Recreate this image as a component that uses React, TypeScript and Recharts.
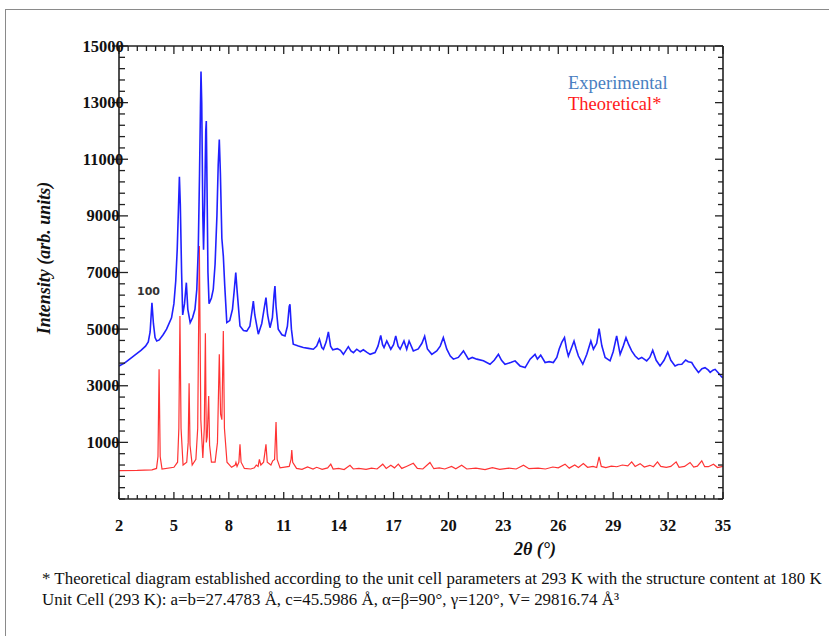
import { LineChart, Line, XAxis, YAxis } from "recharts";

// experimental pattern (blue)
const expTheta = [
  2.0, 2.3, 2.6, 2.9, 3.2, 3.45, 3.6, 3.7, 3.8, 3.88, 3.97, 4.06, 4.2, 4.41, 4.6, 4.87,
  5.0, 5.1, 5.18, 5.25, 5.3, 5.35, 5.42, 5.48, 5.58, 5.68, 5.76, 5.89, 6.02, 6.15, 6.25,
  6.33, 6.4, 6.45, 6.48, 6.52, 6.58, 6.62, 6.68, 6.74, 6.77, 6.81, 6.86, 6.92, 7.05, 7.15,
  7.25, 7.35, 7.42, 7.48, 7.54, 7.62, 7.7, 7.78, 7.89, 8.05, 8.2, 8.3, 8.38, 8.46, 8.61,
  8.8, 8.98, 9.15, 9.28, 9.34, 9.42, 9.61, 9.8, 9.95, 10.03, 10.12, 10.25, 10.38, 10.47,
  10.52, 10.58, 10.7, 10.9, 11.07, 11.2, 11.3, 11.34, 11.42, 11.52, 11.8, 12.07, 12.35,
  12.62, 12.8, 12.95, 13.08, 13.17, 13.32, 13.44, 13.56, 13.68, 13.93, 14.1, 14.26, 14.4,
  14.53, 14.67, 14.81, 14.99, 15.18, 15.35, 15.55, 15.72, 15.99, 16.15, 16.3, 16.4, 16.48,
  16.63, 16.85, 17.0, 17.12, 17.25, 17.36, 17.57, 17.72, 17.85, 18.08, 18.35, 18.55, 18.7,
  18.85, 19.09, 19.36, 19.55, 19.72, 19.91, 20.1, 20.27, 20.54, 20.82, 21.09, 21.3, 21.55,
  21.91, 22.27, 22.5, 22.73, 22.9, 23.09, 23.4, 23.64, 23.91, 24.19, 24.46, 24.73, 24.86,
  25.04, 25.28, 25.5, 25.73, 25.92, 26.05, 26.19, 26.34, 26.45, 26.55, 26.7, 26.86, 26.98,
  27.1, 27.34, 27.56, 27.78, 27.92, 28.1, 28.23, 28.38, 28.56, 28.83, 29.0, 29.19, 29.38,
  29.55, 29.7, 29.85, 30.01, 30.2, 30.38, 30.56, 30.83, 31.0, 31.16, 31.35, 31.56, 31.78,
  31.98, 32.15, 32.38, 32.55, 32.75, 32.96, 33.1, 33.29, 33.45, 33.66, 33.85, 34.02, 34.2,
  34.3, 34.45, 34.57, 34.75, 34.93, 35.0,
];
const expIntensity = [
  3700, 3800, 3950, 4100, 4250, 4400, 4550, 4900, 5930, 5200, 4700, 4580, 4620, 4800, 5000, 5400,
  5900, 6700, 7800, 9300, 10380, 9400, 7000, 5500, 5900, 6640, 5700, 5230, 5400, 5700, 6400,
  7800, 10500, 12800, 14100, 13000, 9000, 7800, 9500, 12000, 12350, 10000, 7000, 5900, 6100, 6400,
  7300, 9000, 10800, 11700, 10500, 8200, 7580, 6500, 5230, 5300, 5700, 6400, 7000, 6300, 5110,
  4950, 4930, 5100, 5700, 5990, 5500, 4820, 5200, 5800, 6110, 5500, 5050, 5400, 6200,
  6520, 5800, 5000, 4800, 4760, 5100, 5800, 5880, 5000, 4470, 4400, 4350, 4320,
  4290, 4400, 4640, 4350, 4290, 4550, 4900, 4400, 4270, 4310, 4250, 4110, 4250,
  4380, 4230, 4170, 4290, 4200, 4270, 4180, 4110, 4170, 4400, 4780, 4450, 4350,
  4580, 4290, 4450, 4760, 4400, 4290, 4580, 4290, 4580, 4230, 4300, 4500, 4750,
  4300, 4110, 4230, 4400, 4700, 4290, 4050, 3940, 4000, 4230, 3940, 4000, 3940,
  3880, 3760, 3900, 4110, 3900, 3760, 3820, 3880, 3700, 3640, 3940, 4110, 3940,
  4080, 3820, 3850, 3820, 4000, 4300, 4530, 4700, 4300, 4050, 4300, 4580, 4300,
  4050, 3760, 4110, 4580, 4290, 4500, 5020, 4410, 4000, 3880, 4200, 4760, 4110,
  4400, 4700, 4450, 4230, 4050, 3940, 4000, 3880, 4000, 4250, 3900, 3700, 3900,
  4190, 3900, 3700, 3750, 3760, 3910, 3850, 3820, 3650, 3470, 3600, 3640, 3550,
  3470, 3550, 3580, 3450, 3310, 3280,
];

// theoretical pattern (red)
const theoTheta = [
  2.0, 3.0, 3.8, 4.05, 4.13, 4.19, 4.25, 4.35, 5.0, 5.2, 5.27, 5.33, 5.39, 5.5, 5.7, 5.78,
  5.83, 5.88, 6.0, 6.2, 6.3, 6.39, 6.47, 6.58, 6.66, 6.72, 6.77, 6.82, 6.9, 6.95, 7.05,
  7.25, 7.38, 7.48, 7.55, 7.62, 7.7, 7.76, 7.9, 8.15, 8.35, 8.39, 8.45, 8.55, 8.61, 8.67,
  8.85, 9.2, 9.4, 9.5, 9.6, 9.67, 9.75, 9.9, 10.03, 10.1, 10.3, 10.4, 10.5, 10.58, 10.64,
  10.8, 11.3, 11.4, 11.44, 11.49, 11.7, 12.0, 12.3, 12.6, 12.8, 13.1, 13.4, 13.57, 13.7,
  14.0, 14.3, 14.62, 14.8, 15.1, 15.5, 15.8, 16.1, 16.41, 16.6, 16.85, 17.05, 17.26, 17.45,
  17.7, 18.08, 18.3, 18.6, 18.99, 19.2, 19.5, 19.8, 20.17, 20.4, 20.72, 21.0, 21.5, 22.0,
  22.4, 22.8, 23.3, 23.7, 24.1, 24.4, 24.9, 25.3, 25.7, 26.0, 26.37, 26.6, 26.9, 27.1,
  27.37, 27.6, 27.9, 28.1, 28.23, 28.35, 28.6, 28.9, 29.2, 29.5, 29.8, 30.01, 30.2, 30.47,
  30.7, 31.0, 31.2, 31.42, 31.6, 31.9, 32.15, 32.44, 32.6, 32.9, 33.2, 33.4, 33.6, 33.84,
  34.0, 34.2, 34.48, 34.7, 35.0,
];
const theoIntensity = [
  0, 10, 30, 80, 500, 3580, 500, 60, 120, 300, 1500, 5460, 1500, 200, 300, 1000,
  3090, 900, 200, 400, 1500, 7940, 1800, 450, 1500, 4850, 1000, 1200, 2640, 900, 300,
  300, 1000, 4110, 2000, 1800, 4930, 1500, 300, 120, 200, 290, 150, 300, 930, 300,
  80, 60, 100, 200, 150, 400, 200, 300, 930, 300, 200, 350, 400, 1720, 400,
  100, 150, 400, 730, 300, 80, 50, 130, 60, 120, 50, 100, 230, 60,
  80, 40, 190, 60, 80, 50, 90, 60, 230, 80, 190, 100, 230, 80,
  150, 260, 80, 60, 290, 70, 100, 60, 150, 70, 190, 60, 90, 40,
  110, 50, 90, 60, 190, 70, 90, 60, 130, 100, 230, 90, 200, 110,
  250, 120, 150, 110, 490, 150, 110, 160, 140, 200, 170, 310, 150, 250,
  130, 190, 140, 310, 150, 120, 150, 310, 120, 150, 290, 130, 160, 350,
  140, 140, 230, 110, 150,
];

const yLabels = [1000, 3000, 5000, 7000, 9000, 11000, 13000, 15000];
const xLabels = [2, 5, 8, 11, 14, 17, 20, 23, 26, 29, 32, 35];

const yTicks = Array.from({ length: 41 }, (_, i) => -1000 + i * 400);
const xTicks = Array.from({ length: 67 }, (_, i) => 2 + i * 0.5);

const expData = expTheta.map((t, i) => ({ t, v: expIntensity[i] }));
const theoData = theoTheta.map((t, i) => ({ t, v: theoIntensity[i] }));

const serif = '"Liberation Serif", "Times New Roman", serif';

const LeftTick = ({ x, y, payload }: any) => {
  const major = yLabels.includes(payload.value);
  return (
    <g>
      <line x1={x - (major ? 7 : 0)} x2={x + (major ? 9 : 6)} y1={y} y2={y} stroke="#222" strokeWidth={1.3} />
      {major && (
        <text x={x - 16} y={y} textAnchor="middle" dominantBaseline="central"
          fontFamily={serif} fontWeight="bold" fontSize={16.5} fill="#111">
          {payload.value}
        </text>
      )}
    </g>
  );
};

const RightTick = ({ x, y, payload }: any) => {
  const major = yLabels.includes(payload.value);
  return <line x1={x} x2={x - (major ? 8 : 5)} y1={y} y2={y} stroke="#222" strokeWidth={1.3} />;
};

const BottomTick = ({ x, y, payload }: any) => {
  const major = xLabels.includes(payload.value);
  return (
    <g>
      <line x1={x} x2={x} y1={y} y2={y - (major ? 7 : 4)} stroke="#222" strokeWidth={1.3} />
      {major && (
        <text x={x} y={y + 26} textAnchor="middle" dominantBaseline="central"
          fontFamily={serif} fontWeight="bold" fontSize={16.5} fill="#111">
          {payload.value}
        </text>
      )}
    </g>
  );
};

const TopTick = ({ x, y, payload }: any) => {
  const major = xLabels.includes(payload.value);
  return <line x1={x} x2={x} y1={y} y2={y + (major ? 8 : 5)} stroke="#222" strokeWidth={1.3} />;
};

const abs = (s: any) => ({ position: "absolute" as const, whiteSpace: "nowrap" as const, ...s });

export default function App() {
  return (
    <div style={{ position: "absolute", left: 0, top: 0, width: 829, height: 636, overflow: "hidden", background: "#fff" }}>
      <div style={abs({ left: 5, top: 9, width: 840, height: 650, border: "1.5px solid #8a8a8a" })} />
      <div style={abs({ left: 0, top: 0 })}>
        <LineChart width={829} height={636} data={expData} margin={{ top: 36, right: 96, bottom: 107, left: 59 }}>
          <XAxis dataKey="t" type="number" domain={[2, 35]} allowDataOverflow ticks={xTicks} interval={0}
            tickSize={0} tickMargin={0} tickLine={false} tick={<BottomTick />} height={30}
            axisLine={{ stroke: "#222", strokeWidth: 1.6 }} />
          <XAxis xAxisId="top" orientation="top" dataKey="t" type="number" domain={[2, 35]} allowDataOverflow
            ticks={xTicks} interval={0} tickSize={0} tickMargin={0} tickLine={false} tick={<TopTick />} height={10}
            axisLine={{ stroke: "#222", strokeWidth: 1.6 }} />
          <YAxis type="number" domain={[-1000, 15000]} allowDataOverflow ticks={yTicks} interval={0}
            tickSize={0} tickMargin={0} tickLine={false} tick={<LeftTick />} width={60}
            axisLine={{ stroke: "#222", strokeWidth: 1.6 }} />
          <YAxis yAxisId="right" orientation="right" type="number" domain={[-1000, 15000]} allowDataOverflow
            ticks={yTicks} interval={0} tickSize={0} tickMargin={0} tickLine={false} tick={<RightTick />} width={10}
            axisLine={{ stroke: "#222", strokeWidth: 1.6 }} />
          <Line data={theoData} dataKey="v" type="linear" stroke="#ff3333" strokeWidth={1.2} dot={false} isAnimationActive={false} />
          <Line data={expData} dataKey="v" type="linear" stroke="#2020ff" strokeWidth={1.6} dot={false} isAnimationActive={false} />
        </LineChart>
      </div>
      <div style={abs({ left: 137, top: 285, fontFamily: '"DejaVu Sans", sans-serif', fontWeight: "bold", fontSize: 11, color: "#333" })}>100</div>
      <div style={abs({ left: 568, top: 73, fontFamily: serif, fontSize: 18.5, color: "#4a7fc1" })}>Experimental</div>
      <div style={abs({ left: 568, top: 94, fontFamily: serif, fontSize: 18.5, color: "#ff1a1a" })}>Theoretical*</div>
      <div style={abs({ left: 44, top: 258, transform: "translate(-50%, -50%) rotate(-90deg)", fontFamily: serif, fontWeight: "bold", fontStyle: "italic", fontSize: 18, color: "#111" })}>
        Intensity (arb. units)
      </div>
      <div style={abs({ left: 535, top: 549, transform: "translate(-50%, -50%)", fontFamily: serif, fontWeight: "bold", fontStyle: "italic", fontSize: 18, color: "#111" })}>
        2θ (°)
      </div>
      <div style={abs({ left: 42, top: 568, fontFamily: serif, fontSize: 16.9, lineHeight: "21px", color: "#111" })}>
        <div>* Theoretical diagram established according to the unit cell parameters at 293 K with the structure content at 180 K</div>
        <div>Unit Cell (293 K): a=b=27.4783 Å, c=45.5986 Å, α=β=90°, γ=120°, V= 29816.74 Å³</div>
      </div>
    </div>
  );
}
